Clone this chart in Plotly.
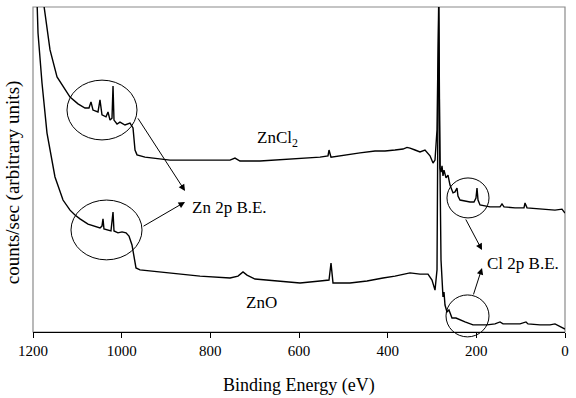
import plotly.graph_objects as go

# Binding energy (eV) and counts (arbitrary units, 0-100 scale)
zncl2_be = [1200, 1177.4, 1161.6, 1145.8, 1116.5, 1098.5, 1082.7, 1073.7, 1069.2, 1064.7,
            1053.4, 1048.9, 1044.4, 1035.3, 1030.8, 1026.3, 1021.8, 1019.5, 1017.3, 1010.5,
            1003.8, 992.5, 981.2, 974.4, 969.9, 965.4, 947.4, 891.0, 823.3, 755.6,
            744.4, 733.1, 688.0, 620.3, 552.6, 534.6, 532.3, 527.8, 496.2, 462.4,
            428.6, 406.0, 383.5, 365.4, 356.4, 349.6, 338.3, 327.1, 315.8, 304.5,
            297.7, 293.2, 288.7, 286.5, 285.0, 283.1, 281.9, 279.7, 277.4, 275.2,
            272.9, 268.4, 263.9, 259.4, 252.6, 248.1, 243.6, 241.4, 236.8, 225.6,
            214.3, 205.3, 200.8, 198.5, 196.2, 191.7, 169.2, 146.6, 142.1, 137.6,
            112.8, 92.5, 90.2, 85.7, 56.4, 22.6, 6.8, 0]
zncl2_counts = [125, 102.2, 86.8, 78.5, 72.3, 70.2, 68.9, 68.9, 70.8, 68.3,
                67.7, 71.4, 66.8, 66.2, 67.7, 65.2, 65.8, 75.7, 65.2, 64.0,
                64.6, 63.7, 64.3, 62.8, 56.0, 54.5, 53.8, 52.9, 52.9, 52.9,
                53.5, 52.6, 52.6, 53.2, 53.8, 54.2, 56.0, 53.8, 54.5, 55.1,
                55.7, 55.7, 56.0, 56.3, 56.8, 56.6, 56.0, 55.4, 56.0, 54.2,
                52.0, 52.9, 62.2, 89.8, 100.5, 65.2, 50.5, 49.2, 51.1, 48.0,
                49.8, 47.4, 48.3, 45.2, 42.8, 43.1, 44.3, 41.8, 40.6, 40.3,
                40.0, 40.0, 41.2, 44.3, 40.6, 39.1, 38.5, 38.5, 39.4, 38.5,
                38.2, 38.2, 39.7, 38.2, 37.8, 37.5, 37.8, 36.6]

zno_be = [1200, 1191.0, 1188.7, 1179.7, 1168.4, 1150.4, 1132.3, 1116.5, 1105.3, 1094.0,
          1075.9, 1060.1, 1048.9, 1044.4, 1042.1, 1039.9, 1030.8, 1024.1, 1019.5, 1017.3,
          1008.3, 999.2, 990.2, 983.5, 976.7, 972.2, 967.7, 958.7, 891.0, 823.3,
          755.6, 737.6, 726.3, 717.3, 699.2, 642.9, 597.7, 552.6, 532.3, 527.8,
          523.3, 485.0, 446.6, 410.5, 383.5, 349.6, 327.1, 309.0, 300.0, 293.2,
          288.7, 286.5, 284.6, 282.4, 279.7, 275.2, 272.9, 270.7, 266.2, 261.7,
          254.9, 245.9, 236.8, 225.6, 207.5, 175.9, 157.9, 146.6, 139.8, 124.1,
          101.5, 88.0, 83.5, 56.4, 33.8, 22.6, 11.3, 0]
zno_counts = [118, 102.2, 92.0, 76.6, 61.2, 47.7, 40.6, 37.5, 36.0, 34.8,
              33.2, 32.6, 32.0, 32.6, 34.8, 31.7, 31.4, 31.1, 36.9, 31.1,
              30.5, 30.8, 30.5, 29.5, 26.8, 22.8, 19.7, 19.1, 18.2, 17.2,
              16.6, 17.2, 18.5, 17.5, 16.3, 15.7, 15.1, 15.7, 16.0, 21.2,
              15.1, 15.1, 15.7, 16.6, 17.2, 18.2, 17.8, 17.8, 16.0, 12.9,
              19.1, 71.4, 100.5, 56.0, 22.2, 10.8, 12.3, 8.3, 6.2, 6.8,
              4.3, 4.3, 3.7, 3.1, 2.2, 2.2, 2.5, 3.1, 2.5, 2.5,
              2.5, 3.1, 2.5, 2.2, 2.2, 2.5, 1.8, 0.9]

x_ticks = [1200, 1000, 800, 600, 400, 200, 0]

FONT = "Liberation Serif, Times New Roman, Times, serif"

fig = go.Figure()
fig.add_trace(go.Scatter(x=zncl2_be, y=zncl2_counts, mode="lines",
                         line=dict(color="black", width=1.4), showlegend=False))
fig.add_trace(go.Scatter(x=zno_be, y=zno_counts, mode="lines",
                         line=dict(color="black", width=1.4), showlegend=False))

# ellipses (x in eV, y as fraction of counts range)
ellipses = [
    (1123.3, 965.4, 0.775, 0.591),
    (1114.3, 954.1, 0.406, 0.222),
    (266.2, 171.4, 0.474, 0.351),
    (268.4, 171.4, 0.114, -0.015),
]
for x0, x1, y0, y1 in ellipses:
    fig.add_shape(type="circle", xref="x", yref="paper", x0=x0, x1=x1, y0=y0, y1=y1,
                  line=dict(color="black", width=1))

# arrows: (tail_x, tail_y, head_x, head_y)
arrows = [
    (965.4, 66.2, 857.1, 43.4),
    (954.1, 32.3, 857.1, 40.0),
    (225.6, 35.1, 187.2, 25.2),
    (207.5, 11.1, 187.2, 19.7),
]
for tx, ty, hx, hy in arrows:
    fig.add_annotation(x=hx, y=hy, ax=tx, ay=ty, xref="x", yref="y", axref="x", ayref="y",
                       text="", showarrow=True, arrowhead=2, arrowsize=1.3, arrowwidth=1,
                       arrowcolor="black")

labels = [
    ("ZnCl<sub>2</sub>", 649.6, 59.5, "center"),
    ("ZnO", 685.7, 9.2, "center"),
    ("Zn 2p B.E.", 847.0, 38.2, "left"),
    ("Cl 2p B.E.", 181.0, 21.2, "left"),
]
for txt, x, y, xa in labels:
    fig.add_annotation(x=x, y=y, xref="x", yref="y", text=txt, showarrow=False,
                       xanchor=xa, yanchor="middle", font=dict(family=FONT, size=17, color="black"))

# plot frame
fig.add_shape(type="rect", xref="paper", yref="paper", x0=0, x1=1, y0=0, y1=1,
              line=dict(color="#8a8a8a", width=1.2), layer="below")

fig.add_annotation(text="counts/sec (arbitrary units)", xref="paper", yref="paper",
                   x=-0.038, y=0.46, textangle=-90, showarrow=False,
                   xanchor="center", yanchor="middle",
                   font=dict(family=FONT, size=19, color="black"))
fig.add_annotation(text="Binding Energy (eV)", xref="paper", yref="paper",
                   x=0.5, y=-0.165, showarrow=False, xanchor="center", yanchor="middle",
                   font=dict(family=FONT, size=18, color="black"))

fig.update_layout(
    width=576, height=398,
    margin=dict(l=33, r=11, t=7, b=66),
    paper_bgcolor="white", plot_bgcolor="white",
    font=dict(family=FONT),
    xaxis=dict(range=[1200, 0], tickvals=x_ticks, ticktext=[str(v) for v in x_ticks],
               showgrid=False, zeroline=False, showline=True, linecolor="black", linewidth=1,
               ticks="outside", ticklen=5, tickcolor="black",
               tickfont=dict(family=FONT, size=15, color="black")),
    yaxis=dict(range=[0, 100], showgrid=False, zeroline=False, showticklabels=False,
               showline=False, ticks=""),
)

fig.write_html("out.html")
